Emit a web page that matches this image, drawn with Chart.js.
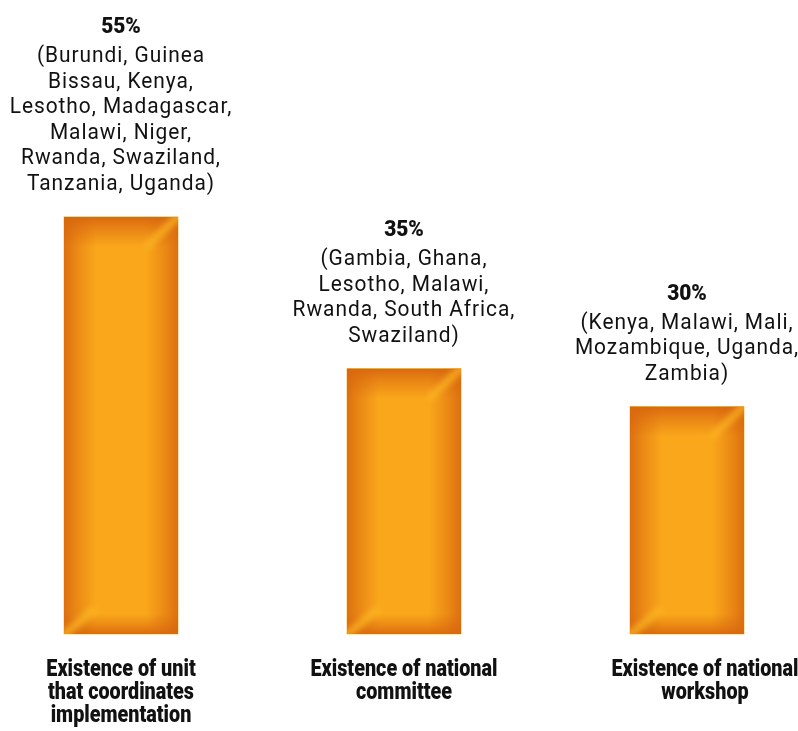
<!DOCTYPE html>
<html>
<head>
<meta charset="utf-8">
<script src="https://cdn.jsdelivr.net/npm/chart.js@4"></script>
<style>
  html,body{margin:0;padding:0;background:#fff}
  #wrap{width:798px;height:731px;position:relative}
</style>
</head>
<body>
<div id="wrap"><canvas id="chart"></canvas></div>
<script>
/* ── Data ── */
const CATEGORIES = [
  ['Existence of unit', 'that coordinates', 'implementation'],
  ['Existence of national', 'committee'],
  ['Existence of national', 'workshop']
];
const SHARE = [55, 35, 30];
const COUNTRIES = [
  ['(Burundi, Guinea', 'Bissau, Kenya,', 'Lesotho, Madagascar,', 'Malawi, Niger,', 'Rwanda, Swaziland,', 'Tanzania, Uganda)'],
  ['(Gambia, Ghana,', 'Lesotho, Malawi,', 'Rwanda, South Africa,', 'Swaziland)'],
  ['(Kenya, Malawi, Mali,', 'Mozambique, Uganda,', 'Zambia)']
];

const BAR_FACE = '#FAA71B';
const DARK = [216, 102, 14];

/* ── Bevel look on each bar ── */
function darkGrad(ctx, x0, y0, x1, y1, a) {
  const g = ctx.createLinearGradient(x0, y0, x1, y1);
  const c = DARK.join(',');
  g.addColorStop(0, `rgba(${c},${a})`);
  g.addColorStop(0.4, `rgba(${c},${a * 0.55})`);
  g.addColorStop(1, `rgba(${c},0)`);
  return g;
}

const bevelPlugin = {
  id: 'bevel',
  afterDatasetsDraw(chart) {
    const ctx = chart.ctx;
    chart.getDatasetMeta(0).data.forEach(bar => {
      const p = bar.getProps(['x', 'y', 'base', 'width'], true);
      const l = p.x - p.width / 2, r = p.x + p.width / 2, t = p.y, b = p.base;
      const w = r - l, h = b - t;
      const s = 32, st = 30, sb = 20;
      ctx.save();
      ctx.beginPath();
      ctx.rect(l, t, w, h);
      ctx.clip();
      ctx.fillStyle = darkGrad(ctx, l, 0, l + s, 0, 0.85);
      ctx.fillRect(l, t, s, h);
      ctx.fillStyle = darkGrad(ctx, r, 0, r - s, 0, 0.85);
      ctx.fillRect(r - s, t, s, h);
      ctx.fillStyle = darkGrad(ctx, 0, t, 0, t + st, 0.95);
      ctx.fillRect(l, t, w, st);
      ctx.fillStyle = darkGrad(ctx, 0, b, 0, b - sb, 0.9);
      ctx.fillRect(l, b - sb, w, sb);
      // light streaks on the mitred corners
      ctx.filter = 'blur(3px)';
      ctx.strokeStyle = 'rgba(252,182,34,0.85)';
      ctx.lineWidth = 7;
      ctx.beginPath();
      ctx.moveTo(r + 4, t - 4);
      ctx.lineTo(r - s, t + st);
      ctx.moveTo(l - 4, b + 4);
      ctx.lineTo(l + s, b - sb - 6);
      ctx.stroke();
      ctx.restore();
    });
  }
};

/* ── Texts above and below the bars ── */
function squeezed(ctx, txt, x, y, sx) {
  ctx.save();
  ctx.translate(x, y);
  ctx.scale(sx, 1);
  ctx.fillText(txt, 0, 0);
  ctx.restore();
}

const labelPlugin = {
  id: 'labels',
  afterDraw(chart) {
    const ctx = chart.ctx;
    ctx.save();
    ctx.fillStyle = '#111';
    ctx.textAlign = 'center';
    ctx.textBaseline = 'alphabetic';
    chart.getDatasetMeta(0).data.forEach((bar, i) => {
      const lines = COUNTRIES[i];
      let yy = bar.y - 27;
      ctx.font = '22px Roboto';
      ctx.letterSpacing = '1px';
      for (let k = lines.length - 1; k >= 0; k--) {
        squeezed(ctx, lines[k], bar.x, yy, 0.95);
        yy -= 25.5;
      }
      ctx.letterSpacing = '0px';
      ctx.font = '900 22px Roboto';
      squeezed(ctx, SHARE[i] + '%', bar.x, yy + 25.5 - 29, 0.95);

      // category label, condensed heavy
      const cx = bar.x + (i === CATEGORIES.length - 1 ? 18 : 0);
      ctx.font = '900 23px Roboto';
      CATEGORIES[i].forEach((txt, k) => {
        squeezed(ctx, txt, cx, bar.base + 42 + k * 23, 0.86);
      });
    });
    ctx.restore();
  }
};

new Chart(document.getElementById('chart'), {
  type: 'bar',
  data: {
    labels: CATEGORIES,
    datasets: [{ data: SHARE, backgroundColor: BAR_FACE, borderWidth: 0, barThickness: 114, clip: false }]
  },
  options: {
    responsive: true, maintainAspectRatio: false,
    animation: false, events: [],
    layout: { padding: { left: 121, right: 111, top: 179, bottom: 97 } },
    plugins: { legend: { display: false }, tooltip: { enabled: false } },
    scales: {
      x: { display: false, offset: false },
      y: { display: false, min: 0, max: 60 }
    }
  },
  plugins: [bevelPlugin, labelPlugin]
});
</script>
</body>
</html>
